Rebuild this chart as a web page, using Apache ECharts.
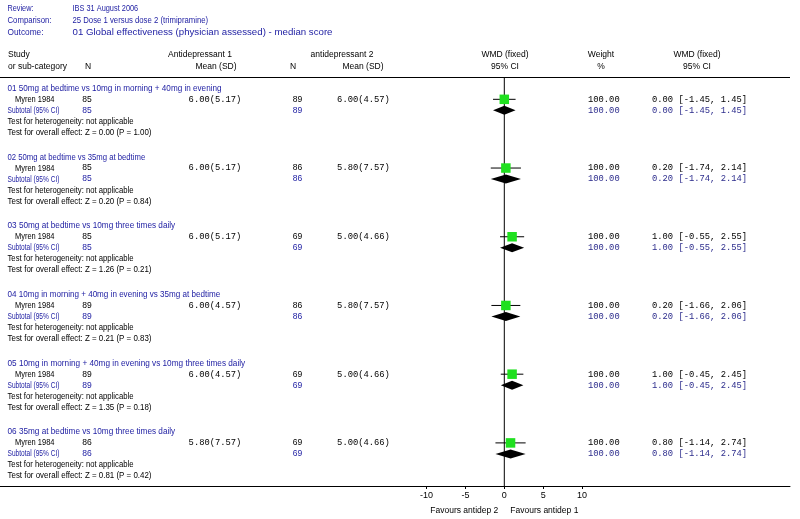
<!DOCTYPE html>
<html><head><meta charset="utf-8">
<script src="https://cdn.jsdelivr.net/npm/echarts@6/dist/echarts.min.js"></script>
<style>html,body{margin:0;padding:0;background:#fff}#c{width:800px;height:519px}</style>
</head><body><div id="c"></div>
<script>
// ---- data ----
const infoLabels = ['Review:', 'Comparison:', 'Outcome:'];
const infoValues = ['IBS 31 August 2006', '25 Dose 1 versus dose 2 (trimipramine)', '01 Global effectiveness (physician assessed) - median score'];
const groupTitles = [
  '01 50mg at bedtime vs 10mg in morning + 40mg in evening',
  '02 50mg at bedtime vs 35mg at bedtime',
  '03 50mg at bedtime vs 10mg three times daily',
  '04 10mg in morning + 40mg in evening vs 35mg at bedtime',
  '05 10mg in morning + 40mg in evening vs 10mg three times daily',
  '06 35mg at bedtime vs 10mg three times daily'
];
const studyNames = ['Myren 1984', 'Myren 1984', 'Myren 1984', 'Myren 1984', 'Myren 1984', 'Myren 1984'];
const n1 = [85, 85, 85, 89, 89, 86];
const mean1 = [6.00, 6.00, 6.00, 6.00, 6.00, 5.80];
const sd1 = [5.17, 5.17, 5.17, 4.57, 4.57, 7.57];
const n2 = [89, 86, 69, 86, 69, 69];
const mean2 = [6.00, 5.80, 5.00, 5.80, 5.00, 5.00];
const sd2 = [4.57, 7.57, 4.66, 7.57, 4.66, 4.66];
const weights = [100, 100, 100, 100, 100, 100];
const wmd = [0.00, 0.20, 1.00, 0.20, 1.00, 0.80];
const ciLow = [-1.45, -1.74, -0.55, -1.66, -0.45, -1.14];
const ciHigh = [1.45, 2.14, 2.55, 2.06, 2.45, 2.74];
const zValues = [0.00, 0.20, 1.26, 0.21, 1.35, 0.81];
const pValues = [1.00, 0.84, 0.21, 0.83, 0.18, 0.42];
const xTickValues = [-10, -5, 0, 5, 10];
const favourLeft = 'Favours antidep 2';
const favourRight = 'Favours antidep 1';

// ---- layout / style ----
const SANS = '"Liberation Sans", Arial, sans-serif';
const MONO = '"Liberation Mono", "Courier New", monospace';
const FS = 9, FM = 8.8;
const BLUE = '#2222a4', BLUE_M = '#2c2c8c', GREEN = '#1fe01f';
const Y_MAX = 37.2;
// target text widths (px) of the original's narrow UI font
const infoLabelW = [26, 44, 36];
const infoValueW = [65.7, 135.7, 260];
const titleW = [214, 137.7, 167.7, 212.7, 237.7, 167.7];
const studyW = 39.5, subtotalW = 52, hetW = 126, overallW = 144;

function rowOf(g, line) { return 1.03 + 6.25 * g + line; }

const mctx = document.createElement('canvas').getContext('2d');
function measure(text, size, fam) { mctx.font = size + 'px ' + fam; return mctx.measureText(text).width; }

function txt(text, x, y, opt) {
  return {type: 'text', silent: true, style: Object.assign({
    text: text, x: x, y: y, fill: '#000', fontSize: FS, fontFamily: SANS,
    align: 'left', verticalAlign: 'middle'}, opt || {})};
}
// left-aligned text squeezed to a target width
function fitTxt(text, x, y, w, opt) {
  const m = measure(text, FS, SANS);
  const s = m > 0 ? w / m : 1;
  return {type: 'text', silent: true, x: x, y: y, scaleX: s, scaleY: 1,
    style: Object.assign({text: text, x: 0, y: 0, fill: '#000', fontSize: FS, fontFamily: SANS,
      align: 'left', verticalAlign: 'middle'}, opt || {})};
}

const chart = echarts.init(document.getElementById('c'), null, {renderer: 'canvas'});

const headerGraphics = [];
infoLabels.forEach((l, i) => {
  headerGraphics.push(fitTxt(l, 7.5, 8.5 + 12.2 * i, infoLabelW[i], {fill: BLUE}));
  headerGraphics.push(fitTxt(infoValues[i], 72.5, 8.5 + 12.2 * i, infoValueW[i], {fill: BLUE}));
});
[
  ['Study', 8, 55, 'left'], ['or sub-category', 8, 66.5, 'left'],
  ['Antidepressant 1', 200, 55, 'center'], ['N', 88, 66.5, 'center'], ['Mean (SD)', 216, 66.5, 'center'],
  ['antidepressant 2', 342, 55, 'center'], ['N', 293, 66.5, 'center'], ['Mean (SD)', 363, 66.5, 'center'],
  ['WMD (fixed)', 505, 55, 'center'], ['95% CI', 505, 66.5, 'center'],
  ['Weight', 601, 55, 'center'], ['%', 601, 66.5, 'center'],
  ['WMD (fixed)', 697, 55, 'center'], ['95% CI', 697, 66.5, 'center']
].forEach(h => headerGraphics.push(txt(h[0], h[1], h[2], {align: h[3], fontSize: 8.5})));

const f2 = v => v.toFixed(2);

chart.setOption({
  animation: false,
  backgroundColor: '#fff',
  grid: {left: 0, width: 790, top: 77, bottom: 33, containLabel: false},
  xAxis: {
    type: 'value', min: -64.82, max: 36.72, position: 'bottom',
    axisLine: {show: true, onZero: false, lineStyle: {color: '#000', width: 1}},
    axisTick: {show: true, customValues: xTickValues, length: 3, lineStyle: {color: '#000'}},
    axisLabel: {show: true, customValues: xTickValues, color: '#000', fontSize: 9, fontFamily: SANS, margin: 5},
    splitLine: {show: false}
  },
  yAxis: {type: 'value', min: 0, max: Y_MAX, inverse: true, show: false},
  graphic: headerGraphics,
  series: [
    {
      name: 'zero', type: 'line', data: [[0, 0], [0, Y_MAX]], symbol: 'none', silent: true,
      lineStyle: {color: '#000', width: 1}, z: 1,
      markLine: {silent: true, symbol: 'none', label: {show: false},
        lineStyle: {color: '#000', width: 1, type: 'solid'},
        data: [{yAxis: 0}]}
    },
    {
      name: 'studies', type: 'custom', silent: true, z: 3,
      data: wmd.map((v, i) => [v, ciLow[i], ciHigh[i], rowOf(i, 1)]),
      renderItem: function (params, api) {
        const r = api.value(3);
        const c = api.coord([api.value(0), r]);
        const lo = api.coord([api.value(1), r]);
        const hi = api.coord([api.value(2), r]);
        const s = 9.5;
        return {type: 'group', children: [
          {type: 'line', shape: {x1: lo[0], y1: c[1], x2: hi[0], y2: c[1]}, style: {stroke: '#000', lineWidth: 1}},
          {type: 'rect', shape: {x: c[0] - s / 2, y: c[1] - s / 2, width: s, height: s}, style: {fill: GREEN}}
        ]};
      }
    },
    {
      name: 'subtotals', type: 'custom', silent: true, z: 3,
      data: wmd.map((v, i) => [v, ciLow[i], ciHigh[i], rowOf(i, 2)]),
      renderItem: function (params, api) {
        const r = api.value(3);
        const c = api.coord([api.value(0), r]);
        const lo = api.coord([api.value(1), r]);
        const hi = api.coord([api.value(2), r]);
        const h = 4.5;
        return {type: 'polygon', shape: {points: [[lo[0], c[1]], [c[0], c[1] - h], [hi[0], c[1]], [c[0], c[1] + h]]},
          style: {fill: '#000'}};
      }
    },
    {
      name: 'table', type: 'custom', silent: true, z: 2, clip: false,
      data: groupTitles.map((t, i) => [0, i]),
      renderItem: function (params, api) {
        const g = params.dataIndex;
        const y = j => api.coord([0, rowOf(g, j)])[1];
        const ci = f2(wmd[g]) + ' [' + f2(ciLow[g]) + ', ' + f2(ciHigh[g]) + ']';
        const mono = {fontFamily: MONO, fontSize: FM};
        return {type: 'group', children: [
          fitTxt(groupTitles[g], 7.5, y(0), titleW[g], {fill: BLUE}),
          fitTxt(studyNames[g], 15, y(1), studyW),
          txt(String(n1[g]), 87, y(1), {align: 'center', fontSize: 8.5}),
          txt(f2(mean1[g]) + '(' + f2(sd1[g]) + ')', 215, y(1), Object.assign({align: 'center'}, mono)),
          txt(String(n2[g]), 297.5, y(1), {align: 'center', fontSize: 8.5}),
          txt(f2(mean2[g]) + '(' + f2(sd2[g]) + ')', 363.5, y(1), Object.assign({align: 'center'}, mono)),
          txt(f2(weights[g]), 588, y(1), mono),
          txt(ci, 652, y(1), mono),
          fitTxt('Subtotal (95% CI)', 7.5, y(2), subtotalW, {fill: BLUE}),
          txt(String(n1[g]), 87, y(2), {align: 'center', fill: BLUE, fontSize: 8.5}),
          txt(String(n2[g]), 297.5, y(2), {align: 'center', fill: BLUE, fontSize: 8.5}),
          txt(f2(weights[g]), 588, y(2), Object.assign({fill: BLUE_M}, mono)),
          txt(ci, 652, y(2), Object.assign({fill: BLUE_M}, mono)),
          fitTxt('Test for heterogeneity: not applicable', 7.5, y(3), hetW),
          fitTxt('Test for overall effect: Z = ' + f2(zValues[g]) + ' (P = ' + f2(pValues[g]) + ')', 7.5, y(4), overallW)
        ]};
      }
    }
  ]
});

const zeroPx = chart.convertToPixel({xAxisIndex: 0}, 0);
chart.setOption({graphic: headerGraphics.concat([
  txt(favourLeft, zeroPx - 6, 511, {align: 'right', fontSize: 8.5}),
  txt(favourRight, zeroPx + 6, 511, {align: 'left', fontSize: 8.5})
])});
</script></body></html>
